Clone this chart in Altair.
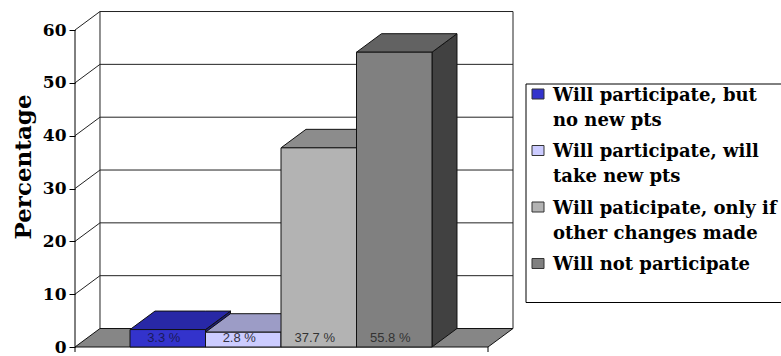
import altair as alt
import pandas as pd

# ---------------- data ----------------
categories = [
    "Will participate, but no new pts",
    "Will participate, will take new pts",
    "Will paticipate, only if other changes made",
    "Will not participate",
]
legend_lines = [
    ["Will participate, but", "no new pts"],
    ["Will participate, will", "take new pts"],
    ["Will paticipate, only if", "other changes made"],
    ["Will not participate"],
]
values = [3.3, 2.8, 37.7, 55.8]
value_labels = ["3.3 %", "2.8 %", "37.7 %", "55.8 %"]
y_ticks = [0, 10, 20, 30, 40, 50, 60]
axis_title = "Percentage"

# ---------------- styles ----------------
front_colors = ["#3333CC", "#CCCCFF", "#B3B3B3", "#808080"]
top_colors = ["#2828A6", "#9C9CC6", "#8C8C8C", "#626262"]
side_colors = ["#1C1C78", "#70709A", "#5E5E5E", "#414141"]
label_colors = ["#1a1a5a", "#333344", "#333333", "#333333"]
EDGE = "#111111"

# depth of the 3-D effect (in data units of each scale)
DX = 0.331
DY = 3.5
XMIN, XMAX = -0.7285, 5.0728
YMAX = 63.6
W, H = 438, 336

yaxis = alt.Axis(values=y_ticks, grid=False, domain=False, ticks=True, tickSize=6,
                 tickColor="#000000", labelFont="DejaVu Serif", labelFontWeight="bold",
                 labelFontSize=17, labelColor="#000000", labelPadding=3, title=None)


def X(f):
    return alt.X(f, type="quantitative", axis=None,
                 scale=alt.Scale(domain=[XMIN, XMAX], nice=False, zero=False))


def Y(f):
    return alt.Y(f, type="quantitative", axis=yaxis, stack=None,
                 scale=alt.Scale(domain=[0, YMAX], nice=False, zero=False))


n = len(values)
front_x0 = XMIN
front_x1 = XMAX - DX
back_x0 = XMIN + DX
back_x1 = XMAX
top_v = max(y_ticks)

# back wall
wall_df = pd.DataFrame({"x": [back_x0], "x2": [back_x1], "y": [DY], "y2": [top_v + DY]})
wall = alt.Chart(wall_df).mark_rect(fill="white", stroke="#222222", strokeWidth=1).encode(
    x=X("x"), x2="x2", y=Y("y"), y2="y2")

grid_vals = [v for v in y_ticks if 0 < v < top_v]
grid_df = pd.DataFrame({"x": back_x0, "x2": back_x1, "y": [v + DY for v in grid_vals]})
grid = alt.Chart(grid_df).mark_rule(color="#222222", strokeWidth=1).encode(
    x=X("x"), x2="x2", y=Y("y"))

slant_vals = [v for v in y_ticks if v > 0]
slant_df = pd.DataFrame({"x": front_x0, "x2": back_x0, "y": slant_vals,
                         "y2": [v + DY for v in slant_vals]})
slants = alt.Chart(slant_df).mark_rule(color="#222222", strokeWidth=1).encode(
    x=X("x"), x2="x2", y=Y("y"), y2="y2")

# floor
floor_df = pd.DataFrame({
    "x": [front_x0, back_x0, front_x1, back_x1],
    "ylo": [0, 0, 0, DY],
    "yhi": [0, DY, DY, DY],
})
floor = alt.Chart(floor_df).mark_area(fill="#868686", stroke=EDGE, strokeWidth=1,
                                      interpolate="linear").encode(
    x=X("x"), y=Y("ylo"), y2="yhi")

# front value axis line and end tick of the category axis
axis_df = pd.DataFrame({"x": [front_x0], "y": [0], "y2": [top_v]})
axis_line = alt.Chart(axis_df).mark_rule(color="#000000", strokeWidth=1).encode(
    x=X("x"), y=Y("y"), y2="y2")
endtick_df = pd.DataFrame({"x": [front_x0, front_x1]})
endticks = alt.Chart(endtick_df).mark_rule(color="#000000", strokeWidth=1).encode(
    x=X("x"), y=alt.value(H), y2=alt.value(H + 5))

# bar faces
side_rows, top_rows, front_rows = [], [], []
for i, v in enumerate(values):
    x0, x1 = i, i + 1
    side_rows += [
        {"bar": i, "x": x1, "ylo": 0, "yhi": v, "c": side_colors[i]},
        {"bar": i, "x": x1 + DX, "ylo": DY, "yhi": v + DY, "c": side_colors[i]},
    ]
    top_rows += [
        {"bar": i, "x": x0, "ylo": v, "yhi": v, "c": top_colors[i]},
        {"bar": i, "x": x0 + DX, "ylo": v, "yhi": v + DY, "c": top_colors[i]},
        {"bar": i, "x": x1, "ylo": v, "yhi": v + DY, "c": top_colors[i]},
        {"bar": i, "x": x1 + DX, "ylo": v + DY, "yhi": v + DY, "c": top_colors[i]},
    ]
    front_rows.append({"bar": i, "x": x0, "x2": x1, "y": 0, "y2": v, "c": front_colors[i],
                       "xc": i + 0.5, "lab": value_labels[i], "lc": label_colors[i]})

side_df = pd.DataFrame(side_rows)
top_df = pd.DataFrame(top_rows)
front_df = pd.DataFrame(front_rows)

sides = alt.Chart(side_df).mark_area(stroke=EDGE, strokeWidth=1, interpolate="linear").encode(
    x=X("x"), y=Y("ylo"), y2="yhi", detail="bar:N", fill=alt.Fill("c:N", scale=None))
tops = alt.Chart(top_df).mark_area(stroke=EDGE, strokeWidth=1, interpolate="linear").encode(
    x=X("x"), y=Y("ylo"), y2="yhi", detail="bar:N", fill=alt.Fill("c:N", scale=None))
fronts = alt.Chart(front_df).mark_rect(stroke=EDGE, strokeWidth=1).encode(
    x=X("x"), x2="x2", y=Y("y"), y2="y2", fill=alt.Fill("c:N", scale=None))

labels = alt.Chart(front_df).mark_text(font="Liberation Sans", fontSize=13, baseline="middle",
                                       align="center", dx=-4, dy=-9).encode(
    x=X("xc"), y=Y("y"), text="lab:N", color=alt.Color("lc:N", scale=None))

# axis title
title_df = pd.DataFrame({"t": [axis_title]})
title = alt.Chart(title_df).mark_text(font="DejaVu Serif", fontWeight="bold", fontSize=23,
                                      angle=270, align="center", baseline="middle",
                                      color="#000000").encode(
    text="t:N", x=alt.value(-51.5), y=alt.value(156))

# legend (drawn by hand to match the wrapped two-line labels)
LX, LY = 451, 73
box_df = pd.DataFrame({"a": [0]})
legend_box = alt.Chart(box_df).mark_rect(fill="white", stroke="#000000", strokeWidth=1).encode(
    x=alt.value(LX), x2=alt.value(LX + 300), y=alt.value(LY), y2=alt.value(LY + 218.5))
legend_layers = [legend_box]
for i, lines in enumerate(legend_lines):
    cy = LY + 10 + 56.5 * i
    sq = alt.Chart(pd.DataFrame({"c": [front_colors[i]]})).mark_rect(
        stroke="#333333", strokeWidth=1).encode(
        x=alt.value(LX + 6), x2=alt.value(LX + 18), y=alt.value(cy - 5), y2=alt.value(cy + 5),
        fill=alt.Fill("c:N", scale=None))
    legend_layers.append(sq)
    for j, line in enumerate(lines):
        t = alt.Chart(pd.DataFrame({"t": [line]})).mark_text(
            font="DejaVu Serif", fontWeight="bold", fontSize=18, align="left",
            baseline="alphabetic", color="#000000").encode(
            text="t:N", x=alt.value(LX + 27), y=alt.value(cy + 6.5 + 25 * j))
        legend_layers.append(t)

chart = alt.layer(
    wall, grid, slants, floor, axis_line, endticks, sides, tops, fronts, labels, title,
    *legend_layers
).properties(
    width=W, height=H,
    autosize=alt.AutoSizeParams(type="none"),
    padding={"left": 75, "top": 11, "right": 781 - 75 - W, "bottom": 356 - 11 - H},
    background="white",
).configure_view(stroke=None)

chart.save("out.html", embed_options={"renderer": "svg", "actions": False})
